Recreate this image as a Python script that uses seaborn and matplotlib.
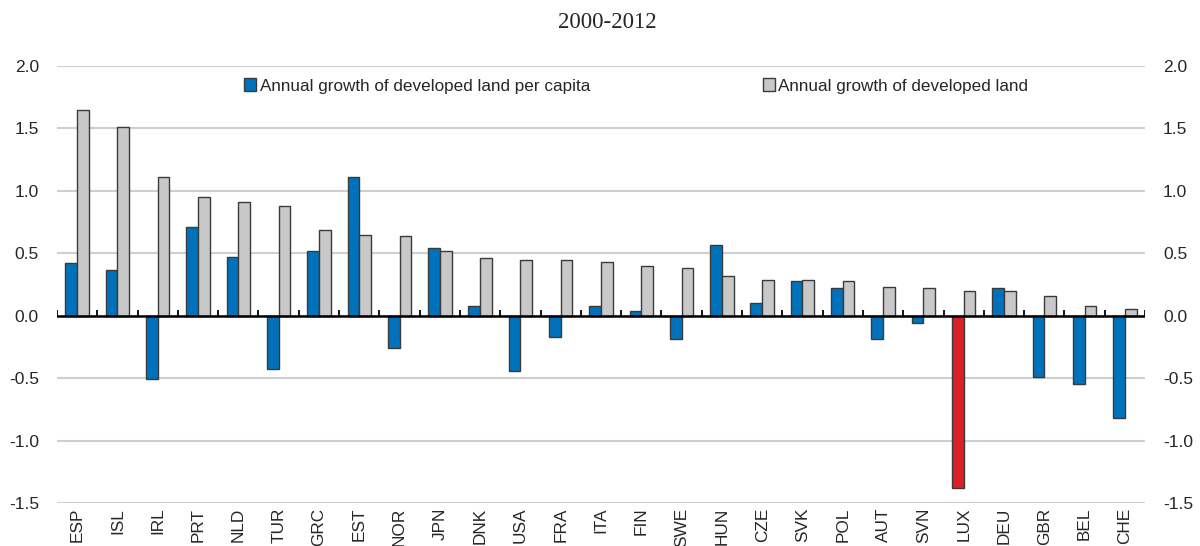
import numpy as np
import pandas as pd
import matplotlib
matplotlib.use("Agg")
import matplotlib.pyplot as plt
from matplotlib import font_manager
import seaborn as sns

countries = ["ESP", "ISL", "IRL", "PRT", "NLD", "TUR", "GRC", "EST", "NOR", "JPN",
             "DNK", "USA", "FRA", "ITA", "FIN", "SWE", "HUN", "CZE", "SVK", "POL",
             "AUT", "SVN", "LUX", "DEU", "GBR", "BEL", "CHE"]
per_capita = [0.42, 0.37, -0.51, 0.71, 0.47, -0.43, 0.52, 1.11, -0.26, 0.54,
              0.08, -0.44, -0.17, 0.08, 0.04, -0.19, 0.57, 0.10, 0.28, 0.22,
              -0.19, -0.06, -1.38, 0.22, -0.49, -0.55, -0.82]
total = [1.65, 1.51, 1.11, 0.95, 0.91, 0.88, 0.69, 0.65, 0.64, 0.52,
         0.46, 0.45, 0.45, 0.43, 0.40, 0.38, 0.32, 0.29, 0.29, 0.28,
         0.23, 0.22, 0.20, 0.20, 0.16, 0.08, 0.05]
series_names = ["Annual growth of developed land per capita",
                "Annual growth of developed land"]
highlight = "LUX"
yticks = [-1.5, -1.0, -0.5, 0.0, 0.5, 1.0, 1.5, 2.0]
title = "2000-2012"

BLUE = "#0072BC"
GREY = "#C8C8C8"
RED = "#DA2128"
EDGE = "#3A3A3A"

df = pd.DataFrame({
    "country": countries * 2,
    "value": per_capita + total,
    "series": [series_names[0]] * len(countries) + [series_names[1]] * len(countries),
})

sns.set_style("white")
plt.rcParams["font.family"] = ["Liberation Sans", "DejaVu Sans"]

# narrow face for the country codes when it is available
installed = {f.name for f in font_manager.fontManager.ttflist}
if "Liberation Sans Narrow" in installed:
    xlab_font = dict(family="Liberation Sans Narrow", size=14)
else:
    xlab_font = dict(family="Liberation Sans", size=12.4)

fig = plt.figure(figsize=(12, 5.46), dpi=100)
ax = fig.add_axes([57 / 1200, 1 - 503 / 546, (1145 - 57) / 1200, (503 - 66) / 546])

sns.barplot(data=df, x="country", y="value", hue="series", order=countries,
            hue_order=series_names, palette=[BLUE, GREY], width=0.58,
            errorbar=None, edgecolor=EDGE, linewidth=1.0, saturation=1,
            legend=False, ax=ax, zorder=3)

# highlighted country in red
ax.containers[0][countries.index(highlight)].set_facecolor(RED)

ax.set_xlim(-0.5, len(countries) - 0.5)
ax.set_ylim(yticks[0], yticks[-1])
ax.set_yticks(yticks)
ax.set_yticklabels([f"{t:.1f}" for t in yticks])
ax.yaxis.grid(True, color="#CFCFCF", linewidth=1.5, zorder=0)
ax.xaxis.grid(False)
for s in ax.spines.values():
    s.set_visible(False)

# zero line with small separators between countries
ax.axhline(0, color="black", linewidth=1.8, zorder=4)
bounds = np.arange(len(countries) + 1) - 0.5
ax.vlines(bounds, 0, 0.045, color="black", linewidth=1.3, zorder=4)

ax.tick_params(axis="y", length=0, pad=13, labelsize=12.5,
               labelleft=True, labelright=True)
ax.tick_params(axis="x", length=0, pad=3.5)
ax.set_xticks(range(len(countries)))
ax.set_xticklabels(countries, rotation=90, ha="center", va="top", **xlab_font)
ax.set_xlabel("")
ax.set_ylabel("")

# legend: two entries laid out in a row
handles = [plt.Rectangle((0, 0), 1, 1, facecolor=c, edgecolor=EDGE, linewidth=1.0)
           for c in (BLUE, GREY)]
fig.legend(handles, series_names, loc="center left",
           bbox_to_anchor=(244 / 1200, 1 - 86 / 546), ncol=2, frameon=False,
           fontsize=12.3, handlelength=0.72, handleheight=0.72,
           handletextpad=0.2, columnspacing=10.1, borderpad=0, borderaxespad=0)

fig.text(607 / 1200, 1 - 22 / 546, title, ha="center", va="center",
         fontsize=16.5, family=["Liberation Serif", "DejaVu Serif"])

fig.savefig("out.png", dpi=100)
